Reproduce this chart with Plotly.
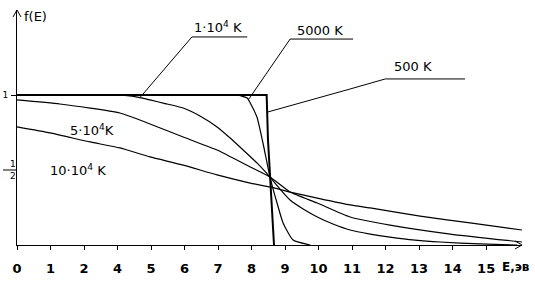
import plotly.graph_objects as go

# x positions are the tick positions on the axis (tick i at x=i); labels as printed in the original
tick_pos = list(range(15))
tick_labels = ["0", "1", "2", "4", "5", "6", "7", "8", "9", "10", "11", "12", "13", "14", "15"]

# curves (x in axis units, f in units of the "1" tick)
e_500 = [0.0, 7.45, 7.49, 7.55, 7.67]
f_500 = [1.0, 1.0, 0.70, 0.453, 0.0]

e_5000 = [0.0, 5.46, 6.57, 6.87, 6.96, 7.16, 7.34, 7.55, 7.76, 7.94, 8.24, 8.75]
f_5000 = [1.0, 1.0, 1.0, 0.98, 0.947, 0.853, 0.68, 0.453, 0.28, 0.147, 0.033, 0.0]

e_1e4 = [0.0, 2.48, 3.22, 3.67, 3.97, 4.42, 4.96, 5.46, 5.97, 6.36, 6.75, 7.16, 7.55, 7.85,
         8.15, 8.54, 8.96, 9.43, 9.94, 10.54, 11.13, 11.88, 12.63, 13.82, 14.93]
f_1e4 = [1.0, 1.0, 0.997, 0.983, 0.967, 0.943, 0.913, 0.86, 0.787, 0.713, 0.633, 0.547, 0.453, 0.373,
         0.30, 0.24, 0.187, 0.14, 0.10, 0.073, 0.053, 0.033, 0.02, 0.007, 0.0]

e_5e4 = [0.0, 1.28, 3.07, 3.97, 4.96, 5.97, 6.96, 7.55, 8.15, 8.96, 9.94, 11.13, 12.93, 15.07]
f_5e4 = [0.967, 0.94, 0.88, 0.807, 0.72, 0.633, 0.52, 0.453, 0.353, 0.28, 0.187, 0.133, 0.073, 0.02]

e_10e4 = [0.0, 0.985, 2.18, 3.07, 3.97, 4.96, 5.97, 6.96, 7.55, 8.15, 8.96, 9.94, 10.54, 12.03, 13.52, 15.07]
f_10e4 = [0.787, 0.747, 0.687, 0.647, 0.587, 0.533, 0.467, 0.413, 0.387, 0.353, 0.313, 0.267, 0.247, 0.193, 0.147, 0.10]

curve_names = ["500 K", "5000 K", "1·10<sup>4</sup> K", "5·10<sup>4</sup>K", "10·10<sup>4</sup> K"]

FONT = "DejaVu Sans"

fig = go.Figure()
series = [(e_500, f_500, 2.0, "linear"), (e_5000, f_5000, 1.2, "spline"),
          (e_1e4, f_1e4, 1.2, "spline"), (e_5e4, f_5e4, 1.2, "spline"),
          (e_10e4, f_10e4, 1.2, "spline")]
for (xs, ys, w, shp), nm in zip(series, curve_names):
    fig.add_trace(go.Scatter(x=xs, y=ys, mode="lines", name=nm,
                             line=dict(color="black", width=w, shape=shp,
                                       smoothing=0.5 if shp == "spline" else None),
                             hoverinfo="skip", showlegend=False))

# curve labels
lab_font = dict(family=FONT, size=13, color="black")
labels = [("1·10<sup>4</sup> K", 5.22, 1.453), ("5000 K", 8.30, 1.433), ("500 K", 11.19, 1.193),
          ("5·10<sup>4</sup>K", 1.52, 0.767), ("10·10<sup>4</sup> K", 0.925, 0.50)]
for t, x, y in labels:
    fig.add_annotation(x=x, y=y, text=t, showarrow=False, xanchor="left", yanchor="middle",
                       font=lab_font)

# leader lines
line_style = dict(color="black", width=1)
leaders = ["M 3.67,0.983 L 5.22,1.387 L 6.87,1.387",
           "M 6.90,0.967 L 8.15,1.373 L 10.03,1.373",
           "M 7.49,0.887 L 9.94,1.04 L 10.99,1.107 L 13.37,1.107"]
for p in leaders:
    fig.add_shape(type="path", path=p, xref="x", yref="y", line=line_style)

# axis arrows (paper coords)
def px2paper(px, py):
    return (px - 17) / 505.0, (245 - py) / 235.0

for pts in [[(13, 17), (17, 10), (21, 17)], [(515, 241), (522, 245), (515, 249)]]:
    path = "M " + " L ".join("%f,%f" % px2paper(*p) for p in pts)
    fig.add_shape(type="path", path=path, xref="paper", yref="paper",
                  line=dict(color="black", width=1))

# 1/2 fraction label with its tick
x0, _ = px2paper(3, 0)
x1, _ = px2paper(17, 0)
fig.add_shape(type="line", x0=x0, x1=x1, y0=0.5, y1=0.5, xref="paper", yref="y",
              line=dict(color="black", width=1))
xm, _ = px2paper(8, 0)
fig.add_annotation(x=xm, y=0.5, xref="paper", yref="y", text="1", showarrow=False,
                   yanchor="bottom", yshift=-1, font=dict(family=FONT, size=9, color="black"))
fig.add_annotation(x=xm, y=0.5, xref="paper", yref="y", text="2", showarrow=False,
                   yanchor="top", yshift=1, font=dict(family=FONT, size=9, color="black"))

# axis titles
fx, fy = px2paper(22, 16)
fig.add_annotation(x=fx, y=fy, xref="paper", yref="paper", text="f(E)", showarrow=False,
                   xanchor="left", yanchor="middle", font=dict(family=FONT, size=13, color="black"))
ex, ey = px2paper(500, 267)
fig.add_annotation(x=ex, y=ey, xref="paper", yref="paper", text="<b>E,эв</b>", showarrow=False,
                   xanchor="left", yanchor="middle", font=dict(family=FONT, size=12, color="black"))

fig.update_layout(
    width=535, height=289,
    margin=dict(l=17, r=13, t=10, b=44, autoexpand=False),
    paper_bgcolor="white", plot_bgcolor="white",
    xaxis=dict(range=[0, 15.07], tickvals=tick_pos, ticktext=tick_labels,
               showgrid=False, zeroline=False, showline=True, linecolor="black", linewidth=1,
               ticks="outside", ticklen=4, tickcolor="black", tickwidth=1,
               tickfont=dict(family=FONT, size=13, color="black", weight="bold"),
               ticklabelstandoff=7, fixedrange=True),
    yaxis=dict(range=[0, 1.5667], tickvals=[1.0], ticktext=["1"],
               showgrid=False, zeroline=False, showline=True, linecolor="black", linewidth=1,
               ticks="outside", ticklen=5, tickcolor="black", tickwidth=1,
               tickfont=dict(family=FONT, size=9, color="black"),
               ticklabelstandoff=1, fixedrange=True),
)

fig.write_html("out.html")
